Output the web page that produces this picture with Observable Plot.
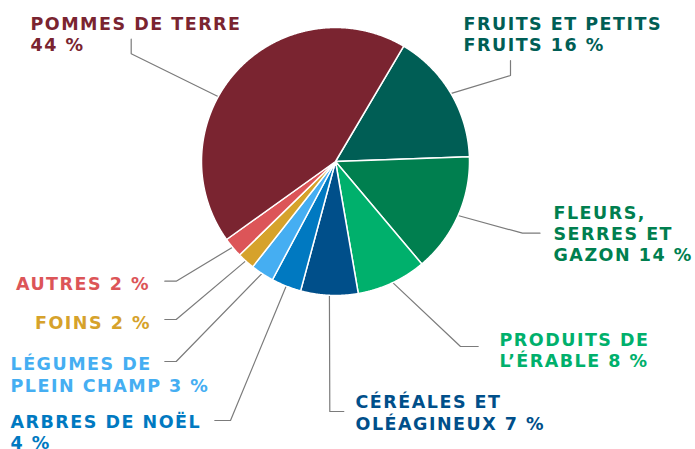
<!DOCTYPE html>
<html><head><meta charset="utf-8">
<script src="https://cdn.jsdelivr.net/npm/d3@7"></script>
<script src="https://cdn.jsdelivr.net/npm/@observablehq/plot@0.6"></script>
<style>
html,body{margin:0;padding:0;background:#fff;}
#chart svg text{letter-spacing:1.5px;}
</style></head><body><div id="chart"></div>
<script>
// ---- data ----
const categories = ["Fruits et petits fruits", "Fleurs, serres et gazon", "Produits de l'érable", "Céréales et oléagineux", "Arbres de Noël", "Légumes de plein champ", "Foins", "Autres", "Pommes de terre"];
const shares = [15.9, 14.4, 8.4, 6.9, 3.6, 2.8, 2.1, 2.4, 43.3];
const labels = ["FRUITS ET PETITS\nFRUITS 16 %", "FLEURS,\nSERRES ET\nGAZON 14 %", "PRODUITS DE\nL’ÉRABLE 8 %", "CÉRÉALES ET\nOLÉAGINEUX 7 %", "ARBRES DE NOËL\n4 %", "LÉGUMES DE\nPLEIN CHAMP 3 %", "FOINS 2 %", "AUTRES 2 %", "POMMES DE TERRE\n44 %"];
const colors = ["#005e55", "#007f4f", "#00b06c", "#004f8a", "#0079c1", "#45aef2", "#d6a22b", "#dc5558", "#7a2430"];

// ---- layout (chart units = pixels of the frame) ----
const W = 695, H = 449, cx = 335, cy = 161, R = 134;
const startDeg = 30.6;
const layout = [
  {tx: 463, ty: 14, anchor: "start", elbow: [510, 75], end: [510, 60]},
  {tx: 553, ty: 203, anchor: "start", elbow: [522, 232.7], end: [539.5, 232.7]},
  {tx: 499, ty: 330, anchor: "start", elbow: [460, 346], end: [477.7, 346]},
  {tx: 355, ty: 392.5, anchor: "start", elbow: [329.3, 411], end: [343.3, 411]},
  {tx: 10, ty: 412, anchor: "start", elbow: [230, 420], end: [214.3, 420]},
  {tx: 10, ty: 354.5, anchor: "start", elbow: [175.7, 361], end: [164.3, 361]},
  {tx: 150.5, ty: 313.5, anchor: "end", elbow: [175.7, 319], end: [164.3, 319]},
  {tx: 149.5, ty: 274, anchor: "end", elbow: [175.7, 280.7], end: [164.3, 280.7]},
  {tx: 30, ty: 14, anchor: "start", elbow: [130.7, 53.3], end: [130.7, 38.7], leaderDeg: 299}
];

const a0 = startDeg * Math.PI / 180;
const arcs = d3.pie().sort(null).startAngle(a0).endAngle(a0 + 2 * Math.PI)(shares);
const pt = (a, r) => [cx + r * Math.sin(a), cy - r * Math.cos(a)];

const slicePts = [];
arcs.forEach((arc, i) => {
  const key = categories[i];
  slicePts.push({key, x: cx, y: cy});
  const n = Math.max(2, Math.ceil((arc.endAngle - arc.startAngle) / 0.005));
  for (let k = 0; k <= n; k++) {
    const a = arc.startAngle + (arc.endAngle - arc.startAngle) * k / n;
    const [x, y] = pt(a, R);
    slicePts.push({key, x, y});
  }
});

const leaderPts = [];
arcs.forEach((arc, i) => {
  const key = categories[i];
  const L = layout[i];
  const a = L.leaderDeg != null ? L.leaderDeg * Math.PI / 180 : (arc.startAngle + arc.endAngle) / 2;
  const [sx, sy] = pt(a, R - 2);
  leaderPts.push({key, x: sx, y: sy});
  leaderPts.push({key, x: L.elbow[0], y: L.elbow[1]});
  leaderPts.push({key, x: L.end[0], y: L.end[1]});
});

const textData = categories.map((key, i) => ({key, label: labels[i], x: layout[i].tx, y: layout[i].ty, anchor: layout[i].anchor}));

const textOpts = {x: "x", y: "y", text: "label", fill: "key", lineAnchor: "top", lineHeight: 1.22,
  fontSize: 17.5, fontWeight: 700, fontFamily: "DejaVu Sans"};

const chart = Plot.plot({
  width: W, height: H,
  margin: 0,
  x: {domain: [0, W], range: [0, W], axis: null},
  y: {domain: [0, H], range: [0, H], axis: null},
  color: {domain: categories, range: colors},
  style: {background: "#fff"},
  marks: [
    Plot.line(leaderPts, {x: "x", y: "y", z: "key", stroke: "#7b7b7b", strokeWidth: 1.2, curve: "linear"}),
    Plot.line(slicePts, {x: "x", y: "y", z: "key", fill: "key", stroke: "white", strokeWidth: 1.5, strokeLinejoin: "round", curve: "linear-closed"}),
    Plot.text(textData.filter(d => d.anchor === "start"), {...textOpts, textAnchor: "start"}),
    Plot.text(textData.filter(d => d.anchor === "end"), {...textOpts, textAnchor: "end"})
  ]
});
document.getElementById("chart").append(chart);
</script>
</body></html>
